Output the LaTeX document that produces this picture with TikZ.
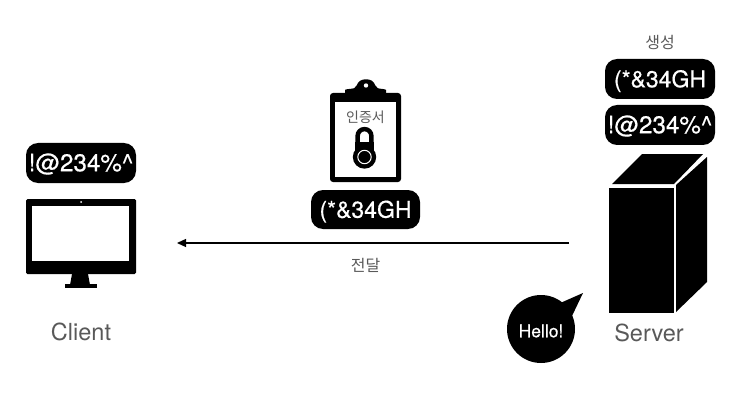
\documentclass[tikz,border=0pt]{standalone}
\usepackage{fontspec}
\setmainfont{TeX Gyre Heros}
\newfontfamily\pillfont[FakeBold=0.5]{TeX Gyre Heros}
\newfontfamily\krfont{Noto Sans CJK KR}
\usetikzlibrary{arrows.meta}
\tikzset{
  x=1pt,y=-1pt,
  pill/.style={fill=black,text=white,rounded corners=12pt,minimum width=110pt,minimum height=40pt,inner sep=0pt,text height=16.5pt,text depth=0pt,font=\pillfont\fontsize{23}{23}\selectfont},
  keypill/.style={pill,font=\pillfont\fontsize{24.2}{24}\selectfont},
  graylabel/.style={text=black!65,inner sep=0pt,font=\fontsize{23.5}{23.5}\selectfont},
  krlabel/.style={text=black!65,inner sep=0pt,font=\krfont\fontsize{16}{16}\selectfont},
  certlabel/.style={krlabel,font=\krfont\fontsize{14}{14}\selectfont},
  solidblack/.style={fill=black,draw=none}
}
\begin{document}
\begin{tikzpicture}
\useasboundingbox (0,0) rectangle (744,401);
% pills
\node[keypill] (keyClient) at (81,163) {!@234\%\^{}};
\node[pill,minimum width=109pt,minimum height=39pt] (pubMid) at (365.5,209.5) {(*\&34GH};
\node[pill] (pubServer) at (660,79) {(*\&34GH};
\node[keypill] (keyServer) at (660,125) {!@234\%\^{}};
% monitor
\fill[solidblack,rounded corners=1.5pt] (26,199) rectangle (136,274);
\fill[white] (32,206) rectangle (129,261);
\fill[white] (81,202) circle (1);
\fill[solidblack] (72,274) -- (88,274) -- (90,285) -- (70,285) -- cycle;
\fill[solidblack] (65,284) rectangle (97,287.5);
% clipboard
\fill[solidblack,rounded corners=3pt] (330,93) rectangle (401,182);
\fill[white] (335,102) rectangle (396,177);
\fill[solidblack,rounded corners=2pt] (345,98) -- (345,92) .. controls (345,89) and (352,89) .. (356,87.5) .. controls (358,81) and (362,79.5) .. (366,79.5) .. controls (370,79.5) and (374,81) .. (376,87.5) .. controls (380,89) and (386,89) .. (386,92) -- (386,98) -- cycle;
\fill[white] (366,85.5) circle (2.2);
% lock
\draw[line width=4.5pt] (357.6,150) -- (357.6,136) arc[start angle=180,end angle=360,radius=6.9] -- (371.4,150);
\fill[solidblack] (355.4,142) rectangle (373.6,150);
\fill[solidblack] (364.5,157) circle (11.7);
\draw[white,line width=1pt] (364.5,157) circle (6.7);
% server
\fill[solidblack] (609,188) rectangle (674,313);
\fill[solidblack] (612,184) -- (642,154) -- (703,154) -- (674,184) -- cycle;
\fill[solidblack] (676,185) -- (707,157) -- (707,282) -- (676,312) -- cycle;
% bubble
\fill[solidblack] (541,329) circle (34);
\fill[solidblack] (558,304) -- (583,293) -- (572,316) -- cycle;
% labels
\node[text=white,inner sep=0pt,font=\pillfont\fontsize{17.5}{17.5}\selectfont] (hello) at (541,331) {Hello!};
\node[graylabel] (client) at (81,332) {Client};
\node[graylabel] (server) at (649,333) {Server};
\node[krlabel] (gen) at (660,42) {생성};
\node[certlabel] (cert) at (365.5,117) {인증서};
\node[krlabel] (send) at (365.5,265) {전달};
% connector
\coordinate (from) at (569,243);
\coordinate (to) at (177,243);
\draw[line width=1.3pt,-{Triangle[length=9pt,width=8pt]}] (from) -- (to);
\end{tikzpicture}
\end{document}
